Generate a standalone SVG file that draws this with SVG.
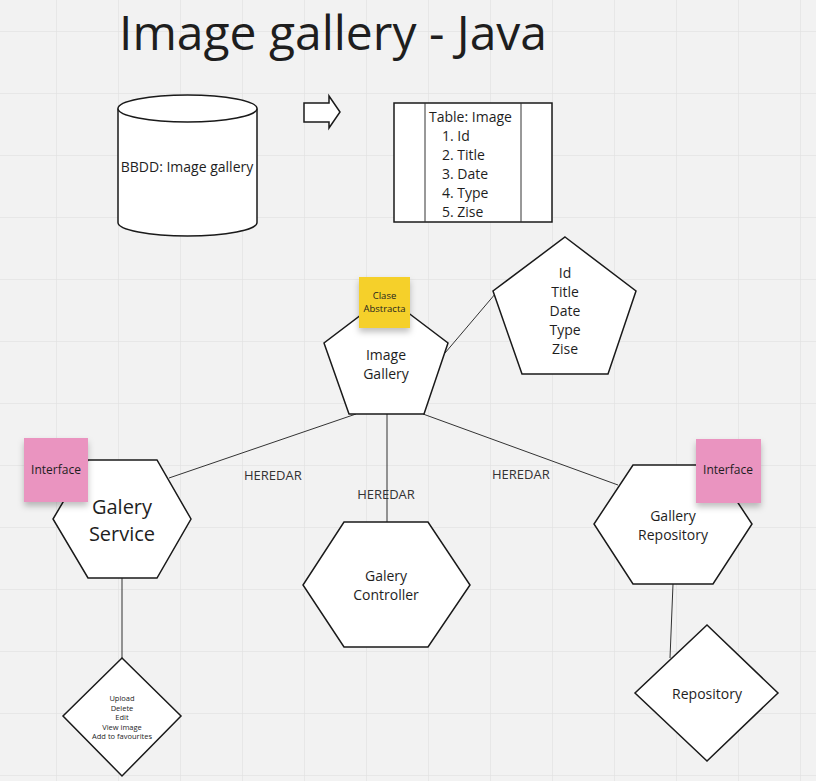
<svg xmlns="http://www.w3.org/2000/svg" width="816" height="781" viewBox="0 0 816 781">
<defs>
  <pattern id="grid" x="56" y="31" width="62" height="62" patternUnits="userSpaceOnUse">
    <path d="M0 0 V62 M0 0 H62" fill="none" stroke="#e3e3e3" stroke-width="1.5"/>
  </pattern>
  <filter id="shadow" x="-20%" y="-20%" width="140%" height="150%">
    <feDropShadow dx="0" dy="4" stdDeviation="3" flood-color="#000" flood-opacity="0.25"/>
  </filter>
</defs>
<style>
  .shape { fill: #ffffff; stroke: #1a1a1a; stroke-width: 1.5; }
  .conn { fill: none; stroke: #333; stroke-width: 1; }
  text { font-family: "Open Sans", "Noto Sans", sans-serif; fill: #1e1e1e; }
  .c { text-anchor: middle; }
  .t14 { font-size: 14px; }
  .lbl { font-size: 13px; fill: #333; }
  .yellow { fill: #f5d02c; }
  .pink { fill: #ea94c0; }
</style>
<rect width="816" height="781" fill="#f2f2f2"/>
<rect width="816" height="781" fill="url(#grid)"/>

<text x="119" y="50" font-size="48" textLength="428" lengthAdjust="spacingAndGlyphs">Image gallery - Java</text>

<g id="connectors">
  <line class="conn" x1="445" y1="353" x2="507" y2="280"/>
  <line class="conn" x1="356" y1="414" x2="169" y2="478"/>
  <line class="conn" x1="387" y1="414" x2="387" y2="522"/>
  <line class="conn" x1="423" y1="414" x2="618" y2="485"/>
  <line class="conn" x1="122" y1="578" x2="122" y2="658"/>
  <line class="conn" x1="673" y1="584" x2="670" y2="658"/>
  <text class="lbl" x="244" y="480">HEREDAR</text>
  <text class="lbl c" x="386" y="499">HEREDAR</text>
  <text class="lbl" x="492" y="479">HEREDAR</text>
</g>

<g id="database">
  <path class="shape" d="M118 108.5 V222.5 A69.5 13.5 0 0 0 257 222.5 V108.5"/>
  <ellipse class="shape" cx="187.5" cy="108.5" rx="69.5" ry="13.5"/>
  <text class="t14 c" x="187" y="172">BBDD: Image gallery</text>
</g>

<g id="arrow">
  <path class="shape" d="M304 103 H329 V96 L340 112 L329 128 V122 H304 Z" stroke-width="1.2"/>
</g>

<g id="table">
  <rect class="shape" x="394" y="103" width="158" height="119"/>
  <line class="conn" x1="425" y1="103" x2="425" y2="222" stroke="#1a1a1a" stroke-width="1.5"/>
  <line class="conn" x1="521" y1="103" x2="521" y2="222" stroke="#1a1a1a" stroke-width="1.5"/>
  <text class="t14" x="429" y="122">Table: Image</text>
  <text class="t14" x="442" y="141">1. Id</text>
  <text class="t14" x="442" y="160">2. Title</text>
  <text class="t14" x="442" y="179">3. Date</text>
  <text class="t14" x="442" y="198">4. Type</text>
  <text class="t14" x="442" y="217">5. Zise</text>
</g>

<g id="image-gallery">
  <polygon class="shape" points="386,296 448,343 424,414 349,414 324,343"/>
  <text class="t14 c" x="386" y="360">Image</text>
  <text class="t14 c" x="386" y="379">Gallery</text>
</g>

<g id="note-abstract">
  <rect class="yellow" x="359" y="277" width="51" height="51" filter="url(#shadow)"/>
  <text class="c" x="384.5" y="299" font-size="9.5">Clase</text>
  <text class="c" x="384.5" y="312" font-size="9.5">Abstracta</text>
</g>

<g id="attributes">
  <polygon class="shape" points="565,237 636,291 608,374 522,374 493,291"/>
  <text class="t14 c" x="565" y="278">Id</text>
  <text class="t14 c" x="565" y="297">Title</text>
  <text class="t14 c" x="565" y="316">Date</text>
  <text class="t14 c" x="565" y="335">Type</text>
  <text class="t14 c" x="565" y="354">Zise</text>
</g>

<g id="galery-service">
  <polygon class="shape" points="88,460 157,460 191,519 157,578 88,578 53,519"/>
  <text class="c" x="122" y="514" font-size="20">Galery</text>
  <text class="c" x="122" y="541" font-size="20">Service</text>
</g>

<g id="note-interface-left">
  <rect class="pink" x="24" y="438" width="64" height="64" filter="url(#shadow)"/>
  <text class="c" x="56" y="474" font-size="12" fill="#3a2a33">Interface</text>
</g>

<g id="galery-controller">
  <polygon class="shape" points="344,522 428,522 470,585 428,647 344,647 303,585"/>
  <text class="t14 c" x="386" y="581">Galery</text>
  <text class="t14 c" x="386" y="600">Controller</text>
</g>

<g id="gallery-repository">
  <polygon class="shape" points="633,465 713,465 752,524 713,584 633,584 594,524"/>
  <text class="t14 c" x="673" y="521">Gallery</text>
  <text class="t14 c" x="673" y="540">Repository</text>
</g>

<g id="note-interface-right">
  <rect class="pink" x="696" y="439" width="65" height="64" filter="url(#shadow)"/>
  <text class="c" x="728" y="474" font-size="12" fill="#3a2a33">Interface</text>
</g>

<g id="service-actions">
  <polygon class="shape" points="122,658 181,716 122,776 63,716"/>
  <text class="c" x="122" y="701" font-size="7.5">Upload</text>
  <text class="c" x="122" y="710.5" font-size="7.5">Delete</text>
  <text class="c" x="122" y="720" font-size="7.5">Edit</text>
  <text class="c" x="122" y="729.5" font-size="7.5">View image</text>
  <text class="c" x="122" y="739" font-size="7.5">Add to favourites</text>
</g>

<g id="repository">
  <polygon class="shape" points="707,625 778,693 707,761 635,693"/>
  <text class="t14 c" x="707" y="699">Repository</text>
</g>
</svg>
